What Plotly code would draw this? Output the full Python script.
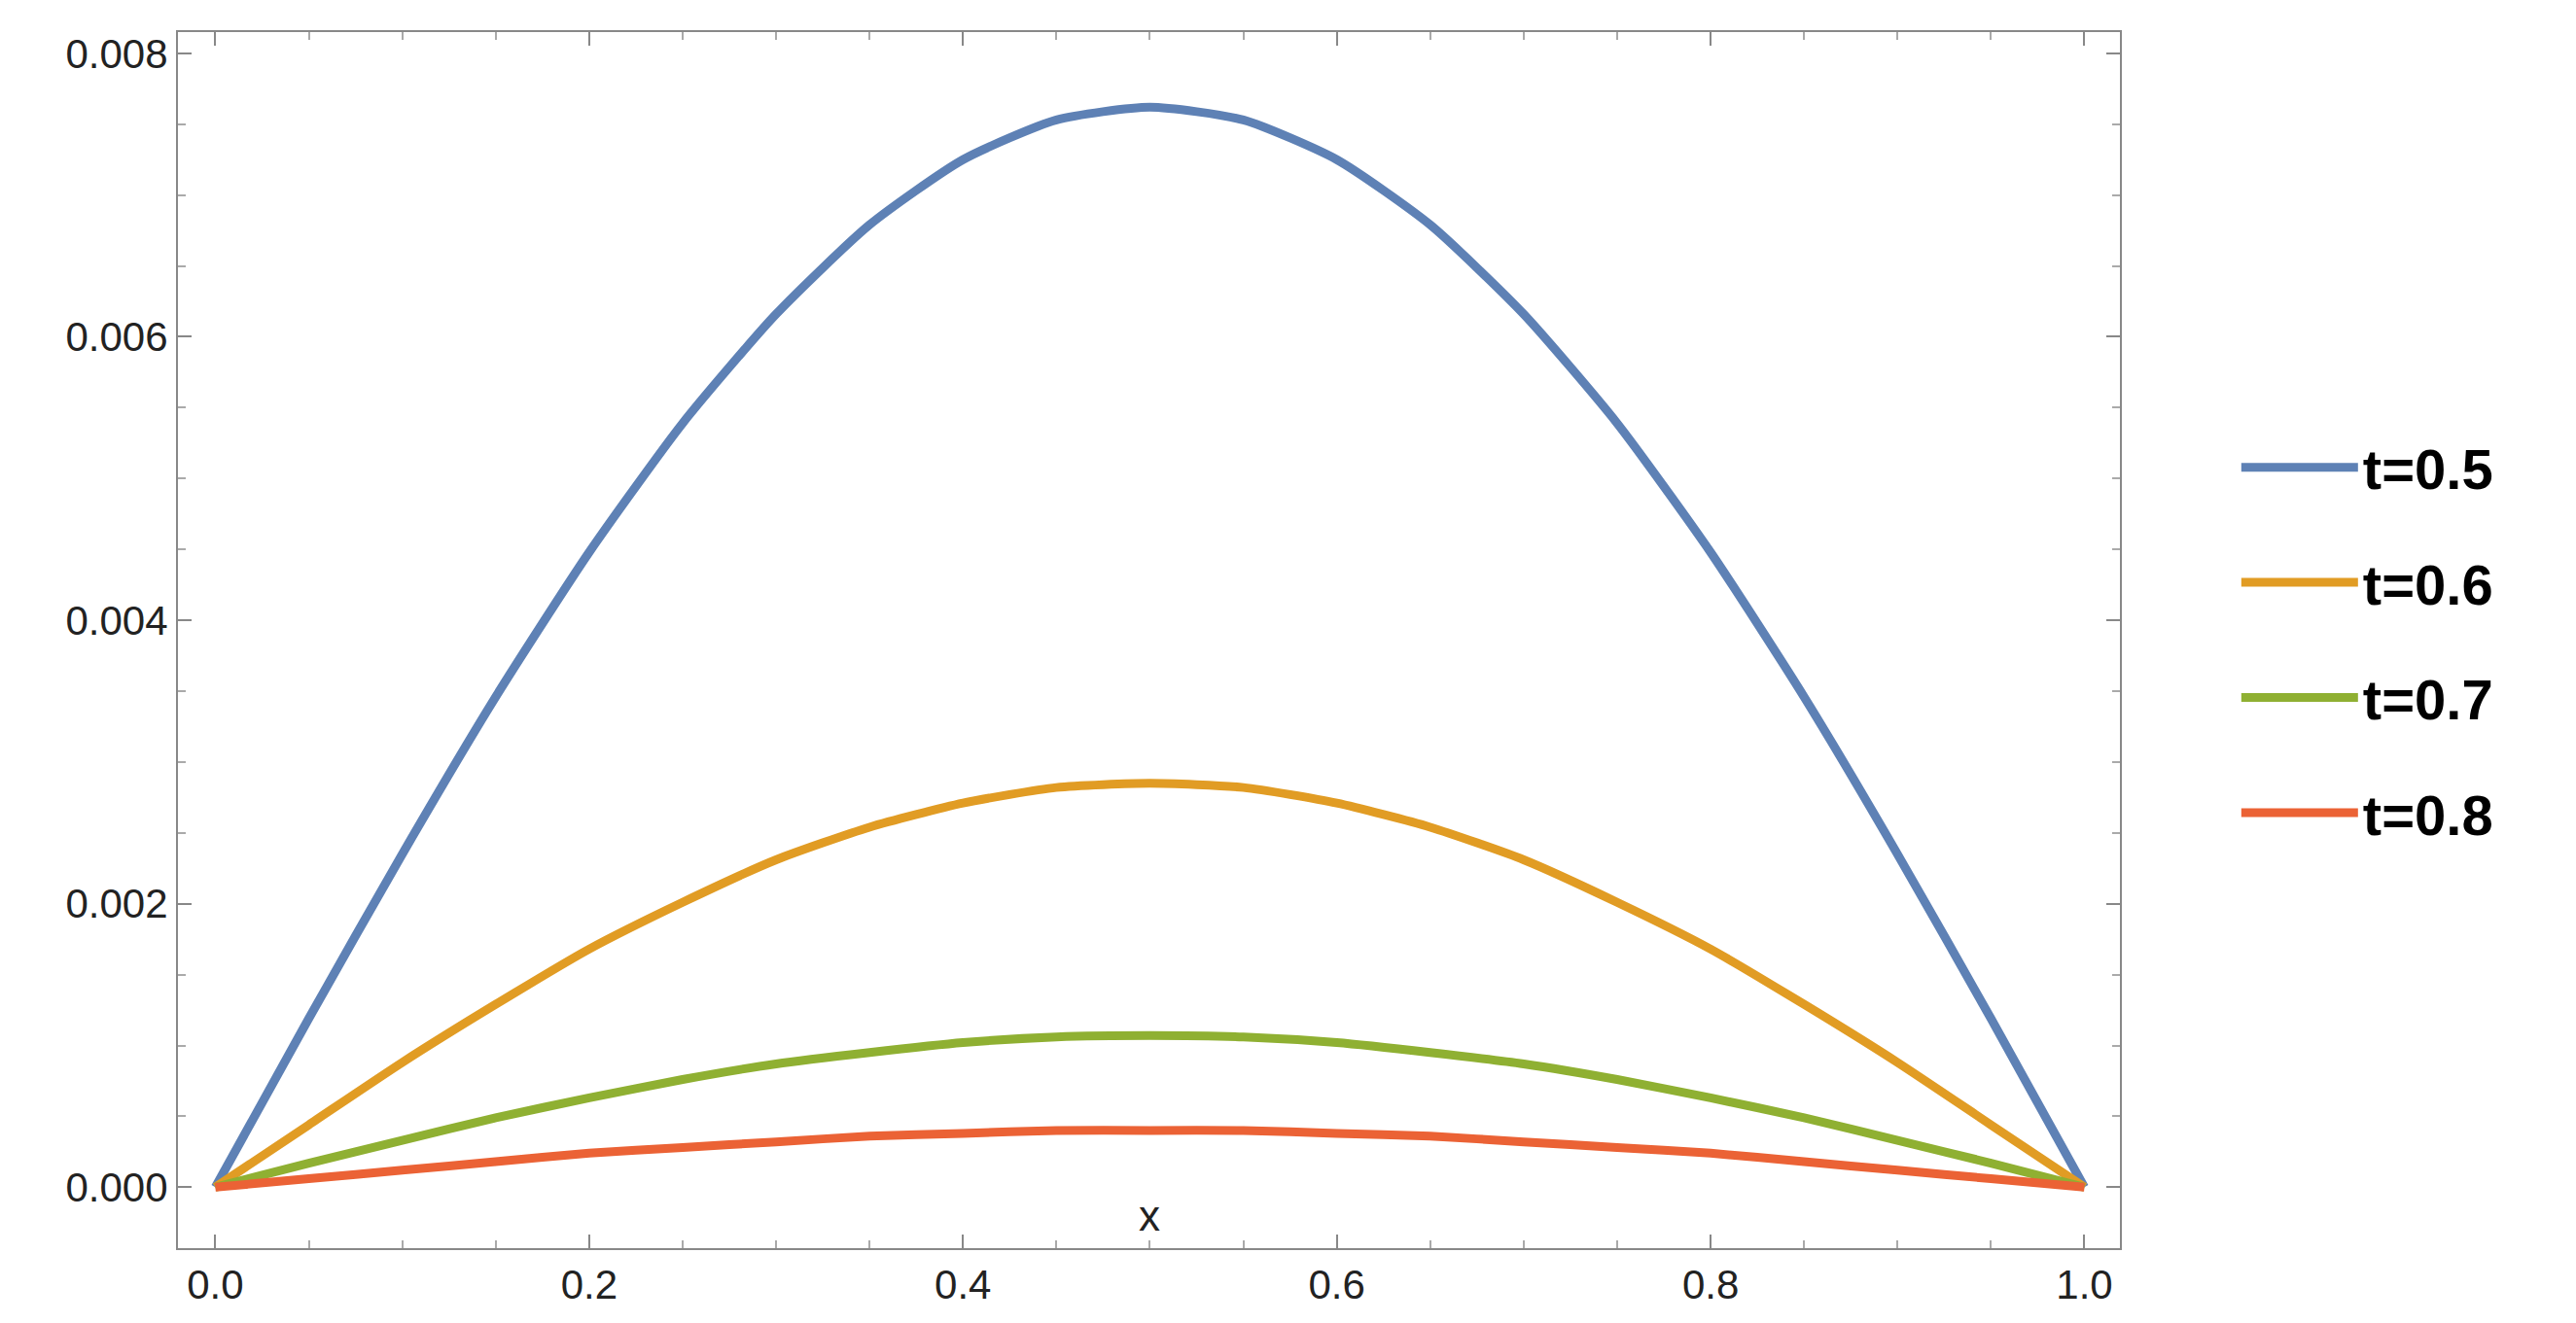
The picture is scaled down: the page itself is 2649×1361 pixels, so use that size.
import plotly.graph_objects as go

x = [0, .05, .1, .15, .2, .25, .3, .35, .4, .45, .5, .55, .6, .65, .7, .75, .8, .85, .9, .95, 1]
half_blue = [0, .00119, .00235, .00346, .00448, .00539, .00616, .00679, .00725, .00753, .00762]
half_orange = [0, .00044, .00088, .00129, .00168, .00201, .00231, .00254, .00271, .00282, .00285]
half_green = [0, .00017, .00033, .00049, .00063, .00076, .00087, .00095, .00102, .00106, .00107]
half_red = [0, .00006, .00012, .00018, .00024, .00028, .00032, .00036, .00038, .00040, .00040]
series = {
    "t=0.5": half_blue + half_blue[-2::-1],
    "t=0.6": half_orange + half_orange[-2::-1],
    "t=0.7": half_green + half_green[-2::-1],
    "t=0.8": half_red + half_red[-2::-1],
}
colors = ["#5E81B5", "#E19C24", "#8FB032", "#EB6235"]
xticks = [0, 0.2, 0.4, 0.6, 0.8, 1.0]
yticks = [0, 0.002, 0.004, 0.006, 0.008]

fig = go.Figure()
for (name, ys), c in zip(series.items(), colors):
    fig.add_trace(go.Scatter(x=x, y=ys, name=name, mode="lines", legendgroup=name,
                             line=dict(color=c, width=9, shape="spline", smoothing=0.6)))

axis_common = dict(showgrid=False, zeroline=False, showline=True, mirror="allticks",
                   linecolor="#888", linewidth=2, ticks="inside", ticklen=14,
                   tickcolor="#888", tickwidth=2,
                   minor=dict(ticks="inside", ticklen=8, tickcolor="#aaa", nticks=5),
                   tickfont=dict(family="Liberation Sans, Arial", size=42, color="#222"))
fig.update_xaxes(range=[-0.02, 1.019], tickvals=xticks,
                 ticktext=[f"{v:.1f}" for v in xticks], **axis_common)
fig.update_yaxes(range=[-0.00043, 0.00815], tickvals=yticks,
                 ticktext=[f"{v:.3f}" for v in yticks], **axis_common)
fig.add_annotation(x=0.5, y=-0.00002, text="x", showarrow=False, yanchor="top",
                   font=dict(family="Liberation Sans, Arial", size=44, color="#222"))
fig.update_layout(
    width=2649, height=1361, plot_bgcolor="white", paper_bgcolor="white",
    margin=dict(l=175, r=2649 - 2172, t=25, b=1361 - 1276),
    legend=dict(x=1.06, y=0.5, yanchor="middle", tracegroupgap=40, itemwidth=120,
                font=dict(family="Liberation Sans, Arial", size=58, color="black", weight="bold")),
)
fig.write_html("out.html")
